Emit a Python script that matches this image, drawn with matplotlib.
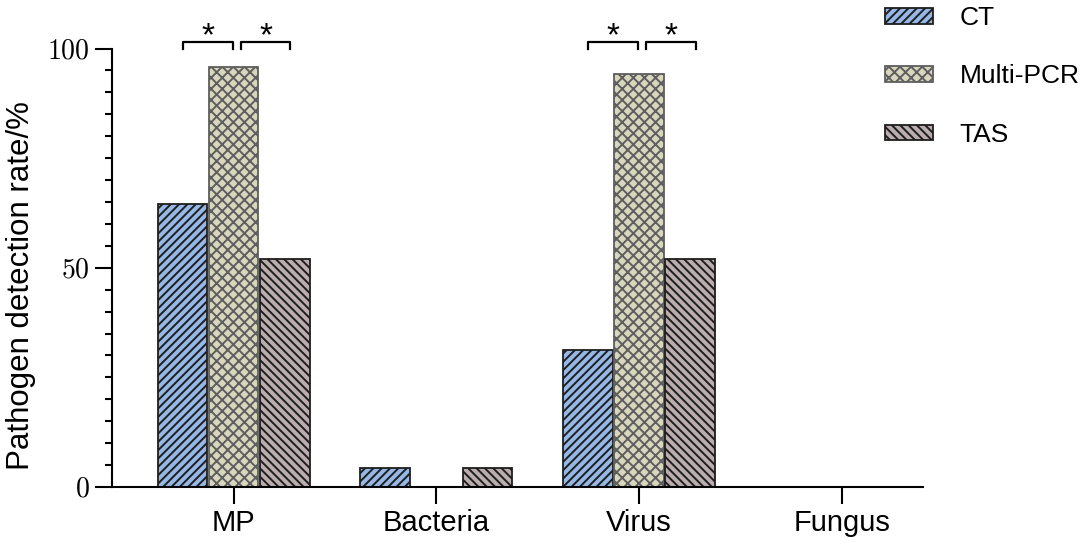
import numpy as np
import matplotlib
matplotlib.use("Agg")
import matplotlib.pyplot as plt
from matplotlib.patches import Patch

plt.rcParams['font.family'] = ['Liberation Sans', 'DejaVu Sans']
plt.rcParams['mathtext.fontset'] = 'cm'
plt.rcParams['hatch.linewidth'] = 1.4

# --- data ---
categories = ["MP", "Bacteria", "Virus", "Fungus"]
methods = ["CT", "Multi-PCR", "TAS"]
ct_rate = [64.5, 4.3, 31.2, 0]
pcr_rate = [95.7, 0, 94.1, 0]
tas_rate = [52.0, 4.3, 52.0, 0]
# significance brackets: (category index, from offset, to offset)
sig_pairs = [(0, -0.25, -0.005), (0, 0.035, 0.28), (2, -0.25, -0.005), (2, 0.035, 0.28)]

fills = ["#95B8E6", "#D9D6BE", "#BBADAD"]
edges = ["#1E1E1E", "#5E5E5E", "#1E1E1E"]
hatches = ["////", "xxx", "\\" * 4]

fig = plt.figure(figsize=(10.84, 5.47), dpi=100)
ax = fig.add_axes([0.1033, 0.1097, 0.748, 0.8016])

x = np.arange(len(categories))
w = 0.245
series = [ct_rate, pcr_rate, tas_rate]
for i, vals in enumerate(series):
    ax.bar(x + (i - 1) * 0.252, vals, width=w, color=fills[i], edgecolor=edges[i],
           hatch=hatches[i], linewidth=1.3, label=methods[i])

# significance brackets
for ci, a, b in sig_pairs:
    x0 = ci + a
    x1 = ci + b
    ax.plot([x0, x0, x1, x1], [100.0, 101.6, 101.6, 100.0], color="black",
            lw=1.6, clip_on=False)
    ax.text((x0 + x1) / 2, 102.6, "*", ha="center", va="center", fontsize=24,
            clip_on=False)

ax.set_xlim(-0.6, 3.4)
ax.set_ylim(0, 100)
ax.set_xticks(x)
ax.set_xticklabels(categories, fontsize=21)
ax.set_yticks([0, 50, 100])
ax.set_yticklabels([r"$0$", r"$50$", r"$100$"], fontsize=20)
ax.set_yticks(np.arange(0, 101, 5), minor=True)
ax.tick_params(axis="both", which="major", length=12, width=1.5, pad=4)
ax.tick_params(axis="y", which="minor", length=5, width=1.5)
ax.set_ylabel("Pathogen detection rate/%", fontsize=22.5)
ax.yaxis.set_label_coords(-0.094, 0.46)
for side in ["top", "right"]:
    ax.spines[side].set_visible(False)
for side in ["left", "bottom"]:
    ax.spines[side].set_linewidth(1.5)

handles = [Patch(facecolor=fills[i], edgecolor=edges[i], hatch=hatches[i],
                 linewidth=1.3, label=methods[i]) for i in range(3)]
fig.legend(handles=handles, loc="upper left", bbox_to_anchor=(0.807, 1.008),
           frameon=False, fontsize=19, handlelength=1.82, handleheight=0.53,
           handletextpad=1.0, labelspacing=1.3, borderaxespad=0)

fig.savefig("out.png", dpi=100)
